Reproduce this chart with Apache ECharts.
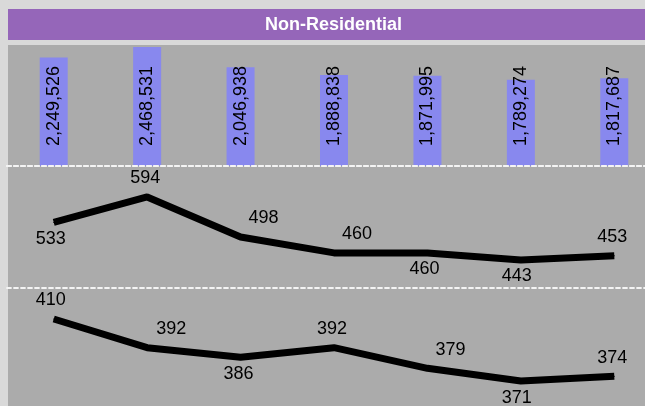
<!DOCTYPE html>
<html><head><meta charset="utf-8">
<script src="https://cdn.jsdelivr.net/npm/echarts@6/dist/echarts.min.js"></script>
<style>html,body{margin:0;padding:0;background:#d9d9d9;}#c{width:645px;height:406px;}</style>
</head><body><div id="c"></div>
<script>
// ---- data ----
const titleText = 'Non-Residential';
const categories = ['1', '2', '3', '4', '5', '6', '7'];
const barValues = [2249526, 2468531, 2046938, 1888838, 1871995, 1789274, 1817687];
const lineA = [533, 594, 498, 460, 460, 443, 453];
const lineB = [410, 392, 386, 392, 379, 371, 374];

// ---- label placement (style only) ----
const placeA = [['bottom', -3], ['top', -2], ['top', 23], ['top', 23], ['bottom', -3], ['bottom', -4], ['top', -2]];
const placeB = [['top', -3], ['top', 24], ['bottom', -2], ['top', -2], ['top', 23], ['bottom', -4], ['top', -2]];

const FONT = 'Liberation Sans, Arial, sans-serif';
const dashed = { show: true, lineStyle: { color: '#f4f4f4', type: [4, 3], width: 1.8 } };

function lineData(vals, place) {
  return vals.map((v, i) => ({
    value: v,
    label: {
      position: place[i][0],
      offset: [place[i][1], 0],
      distance: place[i][0] === 'top' ? 9 : 7
    }
  }));
}

const chart = echarts.init(document.getElementById('c'), null, { renderer: 'canvas' });
const grids = [
  { left: 7, width: 654, top: 45, height: 121, outerBoundsMode: 'none', containLabel: false },
  { left: 7, width: 654, top: 166, height: 122, outerBoundsMode: 'none', containLabel: false },
  { left: 7, width: 654, top: 288, height: 122, outerBoundsMode: 'none', containLabel: false }
];
chart.setOption({
  animation: false,
  backgroundColor: '#d9d9d9',
  title: {
    text: titleText, left: 265, top: 16, padding: 0,
    textStyle: { color: '#ffffff', fontSize: 18, fontWeight: 'bold', fontFamily: FONT }
  },
  graphic: [
    { type: 'rect', z: -10, shape: { x: 8, y: 9, width: 640, height: 31 }, style: { fill: '#9566b9' } },
    { type: 'rect', z: -10, shape: { x: 8, y: 45, width: 640, height: 365 }, style: { fill: '#ababab' } }
  ],
  grid: grids,
  xAxis: grids.map((g, i) => ({
    type: 'category', gridIndex: i, data: categories, position: 'top', boundaryGap: true, z: 5,
    axisLine: dashed, axisTick: { show: false }, axisLabel: { show: false }, splitLine: { show: false }
  })),
  yAxis: [
    { type: 'value', gridIndex: 0, min: 0, max: 2510000, show: false },
    { type: 'value', gridIndex: 1, min: 376, max: 668, show: false },
    { type: 'value', gridIndex: 2, min: 352.8, max: 429.5, show: false }
  ],
  series: [
    {
      type: 'bar', xAxisIndex: 0, yAxisIndex: 0, data: barValues, barWidth: 28, z: 1,
      itemStyle: { color: '#8888ee' },
      label: {
        show: true, position: 'insideTop', rotate: 90, align: 'right', verticalAlign: 'middle',
        fontSize: 18, color: '#000', fontFamily: FONT,
        formatter: p => p.value.toLocaleString('en-US')
      },
      labelLayout: () => ({ y: 66 })
    },
    {
      type: 'line', xAxisIndex: 1, yAxisIndex: 1, data: lineData(lineA, placeA),
      symbol: 'circle', symbolSize: 1, showSymbol: true,
      itemStyle: { color: '#000' }, lineStyle: { color: '#000', width: 7 },
      label: { show: true, fontSize: 18, color: '#000', fontFamily: FONT }
    },
    {
      type: 'line', xAxisIndex: 2, yAxisIndex: 2, data: lineData(lineB, placeB),
      symbol: 'circle', symbolSize: 1, showSymbol: true,
      itemStyle: { color: '#000' }, lineStyle: { color: '#000', width: 7 },
      label: { show: true, fontSize: 18, color: '#000', fontFamily: FONT }
    }
  ]
});
</script></body></html>
